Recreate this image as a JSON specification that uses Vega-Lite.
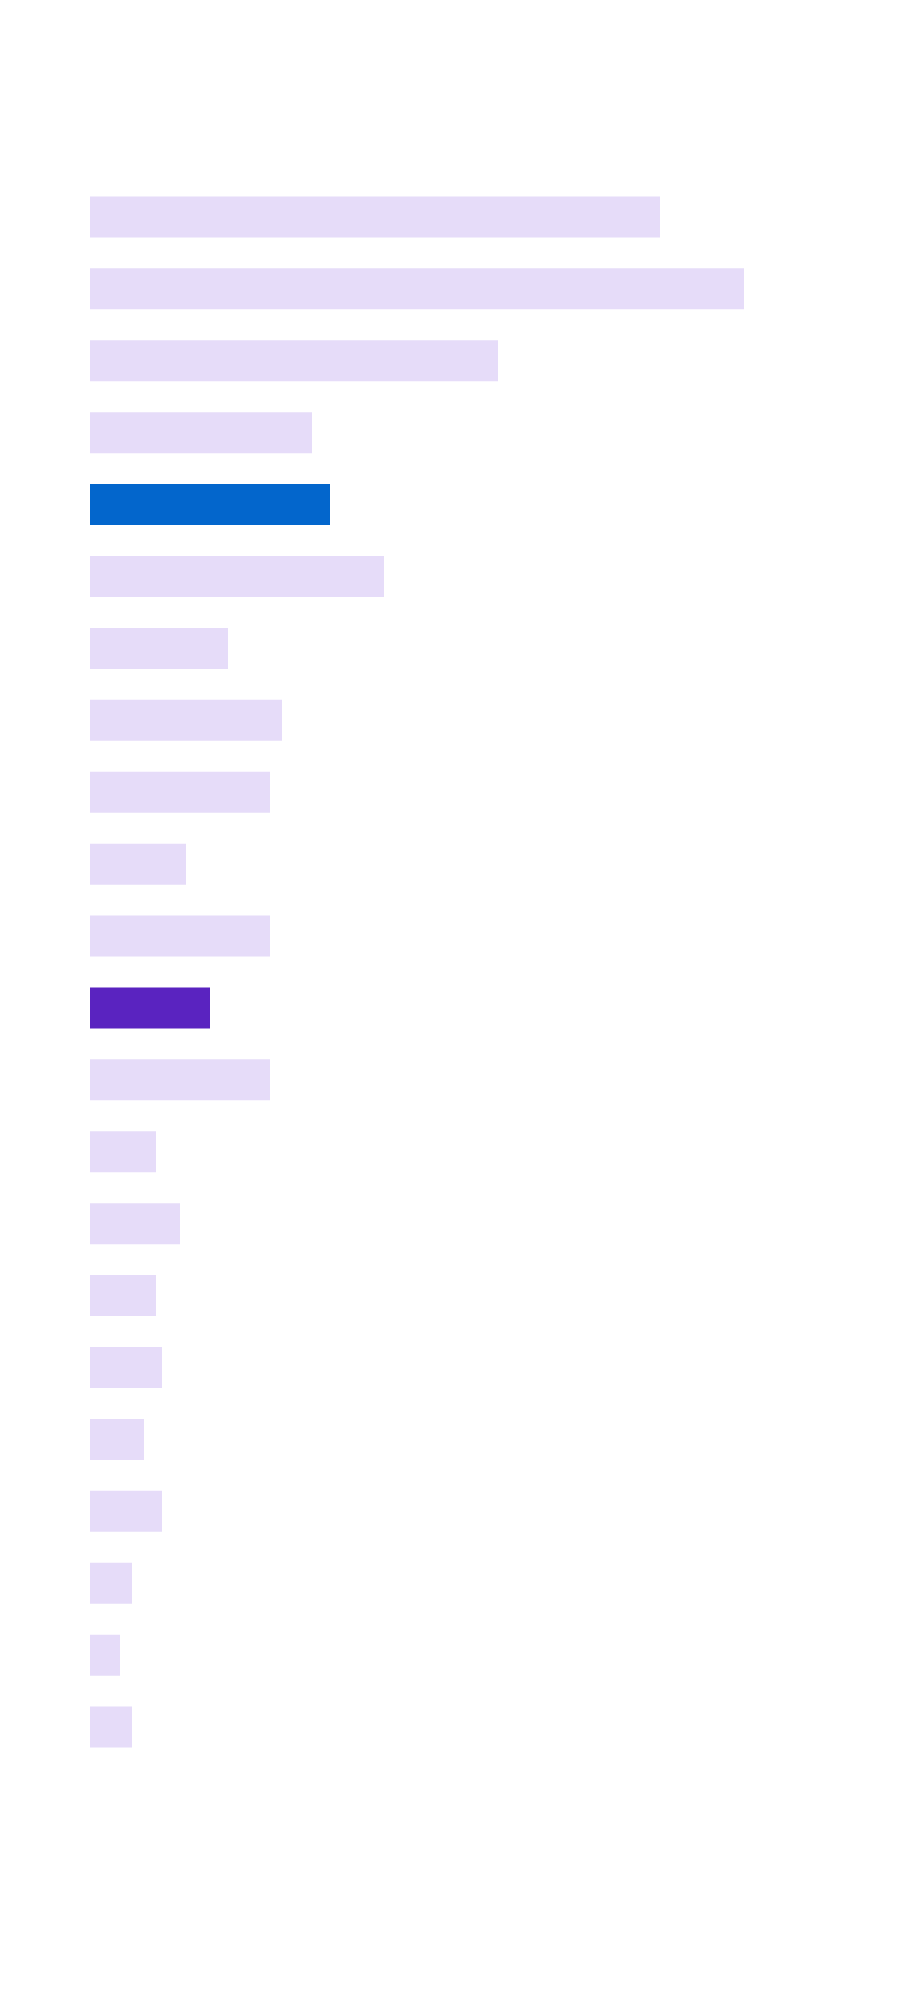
{
  "$schema": "https://vega.github.io/schema/vega-lite/v6.json",
  "autosize": "none",
  "padding": {"left": 90, "top": 181, "right": 90, "bottom": 253},
  "width": 726,
  "height": 1582,
  "background": "#ffffff",
  "view": {"stroke": null},
  "data": {
    "values": [
      {"item": "1", "value": 95, "group": "other"},
      {"item": "2", "value": 109, "group": "other"},
      {"item": "3", "value": 68, "group": "other"},
      {"item": "4", "value": 37, "group": "other"},
      {"item": "5", "value": 40, "group": "blue"},
      {"item": "6", "value": 49, "group": "other"},
      {"item": "7", "value": 23, "group": "other"},
      {"item": "8", "value": 32, "group": "other"},
      {"item": "9", "value": 30, "group": "other"},
      {"item": "10", "value": 16, "group": "other"},
      {"item": "11", "value": 30, "group": "other"},
      {"item": "12", "value": 20, "group": "purple"},
      {"item": "13", "value": 30, "group": "other"},
      {"item": "14", "value": 11, "group": "other"},
      {"item": "15", "value": 15, "group": "other"},
      {"item": "16", "value": 11, "group": "other"},
      {"item": "17", "value": 12, "group": "other"},
      {"item": "18", "value": 9, "group": "other"},
      {"item": "19", "value": 12, "group": "other"},
      {"item": "20", "value": 7, "group": "other"},
      {"item": "21", "value": 5, "group": "other"},
      {"item": "22", "value": 7, "group": "other"}
    ]
  },
  "mark": {"type": "bar"},
  "encoding": {
    "y": {
      "field": "item",
      "type": "nominal",
      "sort": null,
      "axis": null,
      "scale": {"paddingInner": 0.43, "paddingOuter": 0.215}
    },
    "x": {
      "field": "value",
      "type": "quantitative",
      "axis": null,
      "scale": {"domain": [0, 121], "nice": false, "zero": true}
    },
    "color": {
      "field": "group",
      "type": "nominal",
      "legend": null,
      "scale": {"domain": ["other", "blue", "purple"], "range": ["#E6DCF9", "#0366CC", "#5A23C0"]}
    }
  }
}
